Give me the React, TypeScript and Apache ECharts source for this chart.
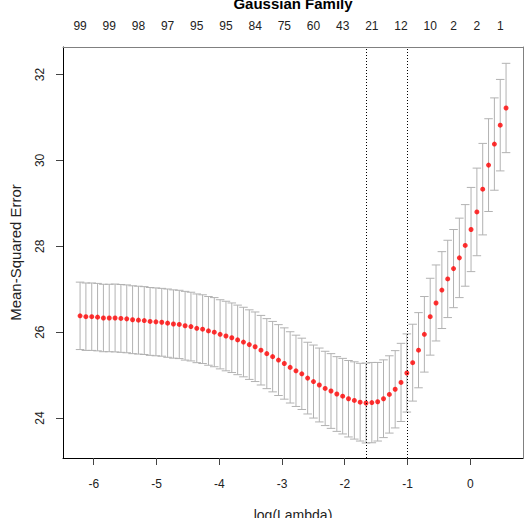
import React, { useEffect, useRef } from "react";
import * as echarts from "echarts";

// log(lambda) grid of the cross-validation fit
const logLambda = [
  -6.218, -6.125, -6.032, -5.939, -5.846, -5.753, -5.66, -5.567, -5.474, -5.381,
  -5.288, -5.195, -5.102, -5.009, -4.916, -4.823, -4.73, -4.637, -4.544, -4.451,
  -4.358, -4.265, -4.172, -4.079, -3.986, -3.893, -3.8, -3.707, -3.614, -3.521,
  -3.428, -3.335, -3.242, -3.149, -3.056, -2.963, -2.87, -2.777, -2.684, -2.591,
  -2.498, -2.405, -2.312, -2.219, -2.126, -2.033, -1.94, -1.847, -1.754, -1.661,
  -1.568, -1.475, -1.382, -1.289, -1.196, -1.103, -1.01, -0.917, -0.824, -0.731,
  -0.638, -0.545, -0.452, -0.359, -0.266, -0.173, -0.08, 0.013, 0.106, 0.199,
  0.292, 0.385, 0.478, 0.571,
];

// mean cross-validated error
const cvm = [
  26.38, 26.36, 26.36, 26.35, 26.33, 26.33, 26.33, 26.32, 26.31, 26.29,
  26.28, 26.27, 26.25, 26.24, 26.23, 26.21, 26.19, 26.18, 26.15, 26.13,
  26.09, 26.07, 26.03, 26.0, 25.95, 25.91, 25.87, 25.82, 25.77, 25.71,
  25.66, 25.58, 25.5, 25.43, 25.35, 25.27, 25.18, 25.1, 25.03, 24.93,
  24.85, 24.77, 24.69, 24.63, 24.56, 24.51, 24.45, 24.41, 24.37, 24.35,
  24.36, 24.38, 24.45, 24.55, 24.67, 24.83, 25.05, 25.29, 25.58, 25.95,
  26.36, 26.68, 26.98, 27.24, 27.48, 27.73, 28.02, 28.39, 28.8, 29.33,
  29.89, 30.38, 30.82, 31.22,
];

// standard error of the cross-validated error
const cvsd = [
  0.785, 0.785, 0.785, 0.785, 0.785, 0.785, 0.79, 0.79, 0.79, 0.79,
  0.79, 0.79, 0.79, 0.79, 0.79, 0.795, 0.795, 0.795, 0.8, 0.8,
  0.8, 0.8, 0.8, 0.805, 0.805, 0.81, 0.81, 0.81, 0.81, 0.81,
  0.81, 0.81, 0.815, 0.82, 0.825, 0.83, 0.83, 0.83, 0.83, 0.835,
  0.85, 0.86, 0.865, 0.87, 0.87, 0.88, 0.89, 0.9, 0.905, 0.93,
  0.935, 0.915, 0.905, 0.9, 0.9, 0.91, 0.91, 0.895, 0.875, 0.88,
  0.895, 0.885, 0.895, 0.9, 0.91, 0.925, 0.95, 0.98, 1.02, 1.065,
  1.08, 1.075, 1.065, 1.04,
];

// number of non-zero coefficients shown on the top axis
const nzLabels = ["99", "99", "98", "97", "95", "95", "84", "75", "60", "43", "21", "12", "10", "2", "2", "1"];
const nzIndex = [0, 5, 10, 15, 20, 25, 30, 35, 40, 45, 50, 55, 60, 64, 68, 72];

const xTicks = [-6, -5, -4, -3, -2, -1, 0];
const yTicks = [24, 26, 28, 30, 32];

const minIndex = 49; // lambda.min
const seIndex = 56; // lambda.1se

const X_MIN = -6.49;
const X_MAX = 0.841;
const Y_MIN = 23.07;
const Y_MAX = 32.64;

const FONT = '"Liberation Sans", Arial, Helvetica, sans-serif';

export default function App() {
  const ref = useRef<HTMLDivElement>(null);

  useEffect(() => {
    if (!ref.current) return;
    const chart = echarts.init(ref.current, undefined, { renderer: "svg" });

    const errRows = logLambda.map((x, i) => [x, cvm[i] - cvsd[i], cvm[i] + cvsd[i]]);
    const points = logLambda.map((x, i) => [x, cvm[i]]);
    const barW = 0.01 * (Math.max(...logLambda) - Math.min(...logLambda));
    const nzValues = nzIndex.map((i) => logLambda[i]);

    const option: any = {
      animation: false,
      backgroundColor: "#ffffff",
      textStyle: { fontFamily: FONT },
      grid: {
        left: 63,
        right: 8,
        top: 47,
        bottom: 60,
        containLabel: false,
        outerBoundsMode: "none",
      },
      graphic: [
        {
          type: "text",
          x: 293,
          y: 11,
          style: {
            text: "Gaussian Family",
            font: 'bold 15px "Liberation Sans", Arial, sans-serif',
            textAlign: "center",
            textVerticalAlign: "bottom",
            fill: "#000",
          },
        },
      ],
      xAxis: [
        {
          type: "value",
          position: "bottom",
          min: X_MIN,
          max: X_MAX,
          name: "log(Lambda)",
          nameLocation: "middle",
          nameGap: 50,
          nameTextStyle: { fontSize: 14, color: "#222", fontFamily: FONT },
          axisLine: { show: true, onZero: false, lineStyle: { color: "#000", width: 1 } },
          axisTick: { show: true, customValues: xTicks, length: 7, lineStyle: { color: "#444" } },
          axisLabel: {
            customValues: xTicks,
            margin: 20,
            fontSize: 12,
            color: "#222",
            fontFamily: FONT,
          },
          splitLine: { show: false },
        },
        {
          type: "value",
          position: "top",
          min: X_MIN,
          max: X_MAX,
          axisLine: { show: true, onZero: false, lineStyle: { color: "#808080", width: 1 } },
          axisTick: { show: false },
          axisLabel: {
            customValues: nzValues,
            margin: 15,
            fontSize: 12,
            color: "#222",
            fontFamily: FONT,
            formatter: (v: number) => {
              const j = nzValues.findIndex((t) => Math.abs(t - v) < 1e-6);
              return j >= 0 ? nzLabels[j] : "";
            },
          },
          splitLine: { show: false },
        },
      ],
      yAxis: [
        {
          type: "value",
          position: "left",
          min: Y_MIN,
          max: Y_MAX,
          name: "Mean-Squared Error",
          nameLocation: "middle",
          nameGap: 40,
          nameTextStyle: { fontSize: 15, color: "#222", fontFamily: FONT },
          axisLine: { show: true, onZero: false, lineStyle: { color: "#000", width: 1 } },
          axisTick: { show: true, customValues: yTicks, length: 7, lineStyle: { color: "#444" } },
          axisLabel: {
            customValues: yTicks,
            rotate: 90,
            margin: 17,
            fontSize: 12,
            color: "#222",
            fontFamily: FONT,
          },
          splitLine: { show: false },
        },
        {
          type: "value",
          position: "right",
          min: Y_MIN,
          max: Y_MAX,
          axisLine: { show: true, onZero: false, lineStyle: { color: "#808080", width: 1 } },
          axisTick: { show: false },
          axisLabel: { show: false },
          splitLine: { show: false },
        },
      ],
      series: [
        {
          type: "custom",
          xAxisIndex: 0,
          yAxisIndex: 0,
          data: errRows,
          encode: { x: 0, y: [1, 2] },
          silent: true,
          renderItem: (params: any, api: any) => {
            const x = api.value(0);
            const lo = api.value(1);
            const up = api.value(2);
            const pTop = api.coord([x, up]);
            const pBot = api.coord([x, lo]);
            const hw = api.coord([x + barW, up])[0] - pTop[0];
            const style = { stroke: "#b2b2b2", lineWidth: 1 };
            return {
              type: "group",
              children: [
                { type: "line", shape: { x1: pTop[0], y1: pTop[1], x2: pBot[0], y2: pBot[1] }, style },
                { type: "line", shape: { x1: pTop[0] - hw, y1: pTop[1], x2: pTop[0] + hw, y2: pTop[1] }, style },
                { type: "line", shape: { x1: pBot[0] - hw, y1: pBot[1], x2: pBot[0] + hw, y2: pBot[1] }, style },
              ],
            };
          },
          z: 2,
        },
        {
          type: "scatter",
          xAxisIndex: 0,
          yAxisIndex: 0,
          data: points,
          symbol: "circle",
          symbolSize: 5,
          itemStyle: { color: "#ff0000" },
          silent: true,
          z: 3,
          markLine: {
            silent: true,
            symbol: ["none", "none"],
            label: { show: false },
            lineStyle: { color: "#000", width: 1, type: [1, 2] },
            data: [{ xAxis: logLambda[minIndex] }, { xAxis: logLambda[seIndex] }],
          },
        },
      ],
    };

    chart.setOption(option);
    return () => chart.dispose();
  }, []);

  return (
    <div
      ref={ref}
      style={{ position: "fixed", left: 0, top: 0, width: 531, height: 518, background: "#fff" }}
    />
  );
}
